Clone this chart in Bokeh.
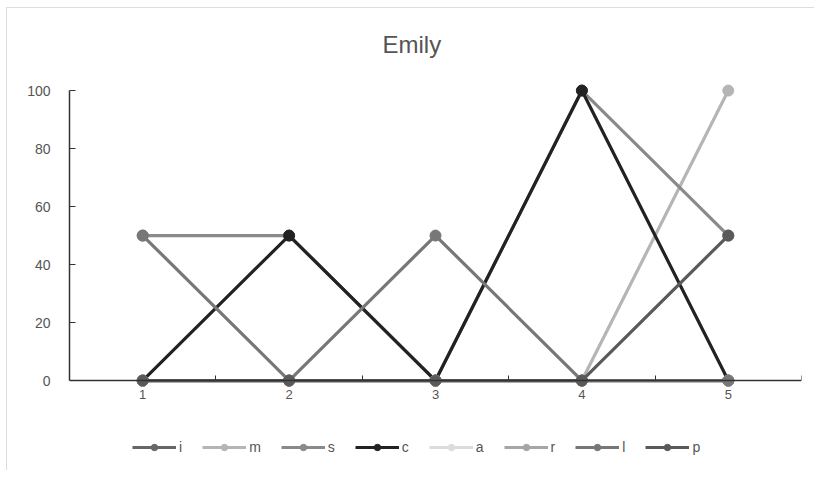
from bokeh.plotting import figure
from bokeh.models import Range1d, FixedTicker, Legend, LegendItem
from bokeh.embed import file_html
from bokeh.resources import INLINE

x_values = [1, 2, 3, 4, 5]
series_names = ["i", "m", "s", "c", "a", "r", "l", "p"]
series_values = {
    "i": [0, 0, 0, 0, 0],
    "m": [0, 0, 0, 0, 100],
    "s": [50, 50, 0, 100, 50],
    "c": [0, 50, 0, 100, 0],
    "a": [0, 0, 0, 0, 0],
    "r": [0, 0, 0, 0, 0],
    "l": [50, 0, 50, 0, 0],
    "p": [0, 0, 0, 0, 50],
}
series_colors = {
    "i": "#666666",
    "m": "#b5b5b5",
    "s": "#8a8a8a",
    "c": "#222222",
    "a": "#dcdcdc",
    "r": "#a6a6a6",
    "l": "#777777",
    "p": "#5a5a5a",
}
y_ticks = [0, 20, 40, 60, 80, 100]
x_ticks = [1, 2, 3, 4, 5]
x_minor = [0.5, 1.5, 2.5, 3.5, 4.5, 5.5]

FONT = "Liberation Sans"

p = figure(frame_width=732, frame_height=393, output_backend="svg", toolbar_location=None,
           x_range=Range1d(0.5, 5.5), y_range=Range1d(-31, 104.5),
           min_border_left=62, min_border_right=13, min_border_top=69, min_border_bottom=0,
           title="Emily")
p.margin = (7, 0, 0, 6)
p.styles = {"border-left": "1px solid #dddddd", "border-top": "1px solid #dddddd"}
p.title.align = "left"
p.title.text_font = FONT
p.title.text_font_size = "24px"
p.title.text_font_style = "normal"
p.title.text_color = "#555555"
p.title.offset = 313
p.title.standoff = 39

p.outline_line_color = None
p.xgrid.grid_line_color = None
p.ygrid.grid_line_color = None

xa = p.xaxis[0]
xa.fixed_location = 0
xa.ticker = FixedTicker(ticks=x_ticks, minor_ticks=x_minor)
xa.major_tick_in = 0
xa.major_tick_out = 0
xa.minor_tick_in = 5
xa.minor_tick_out = 0
xa.minor_tick_line_color = "#333333"
xa.axis_line_color = "#333333"
xa.axis_line_width = 1.5
xa.major_label_text_font = FONT
xa.major_label_text_font_size = "13px"
xa.major_label_text_color = "#555555"
xa.major_label_standoff = 9

ya = p.yaxis[0]
ya.bounds = (0, 100)
ya.ticker = FixedTicker(ticks=y_ticks)
ya.major_tick_in = 6
ya.major_tick_out = 0
ya.minor_tick_line_color = None
ya.major_tick_line_color = "#333333"
ya.axis_line_color = "#333333"
ya.axis_line_width = 1.5
ya.major_label_text_font = FONT
ya.major_label_text_font_size = "14px"
ya.major_label_text_color = "#555555"
ya.major_label_standoff = 19

items = []
for name in series_names:
    col = series_colors[name]
    ln = p.line(x_values, series_values[name], line_color=col, line_width=3.2)
    sc = p.scatter(x_values, series_values[name], size=11, fill_color=col, line_color=col)
    items.append(LegendItem(label=name, renderers=[ln, sc]))

legend = Legend(items=items, orientation="horizontal", location=(63, 15),
                border_line_color=None, background_fill_alpha=0,
                label_text_font=FONT, label_text_font_size="14px",
                label_text_color="#555555", glyph_width=44, glyph_height=16,
                label_width=0, label_standoff=3, spacing=20, padding=0, margin=0)
p.add_layout(legend, "center")

open("out.html", "w").write(file_html(p, INLINE))
